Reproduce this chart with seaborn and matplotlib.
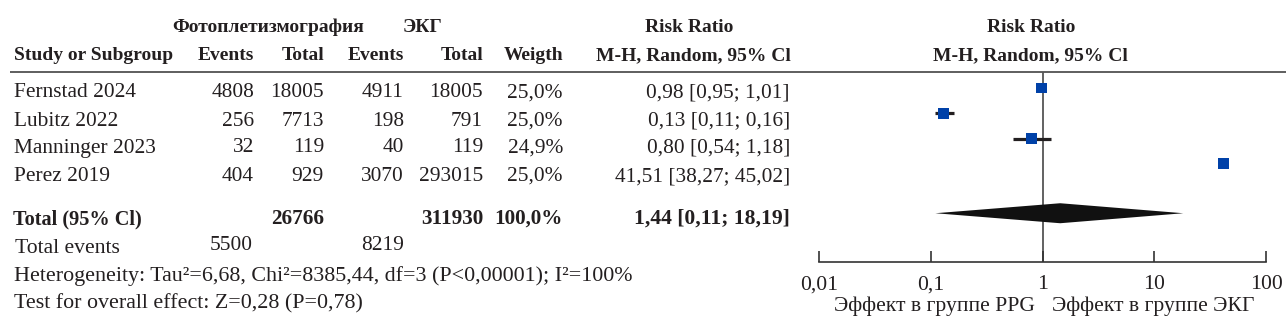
import matplotlib
matplotlib.use("Agg")
import matplotlib.pyplot as plt
import matplotlib.ticker as mticker
from matplotlib.patches import Polygon
import seaborn as sns
import pandas as pd

# ---------------- data ----------------
studies = ["Fernstad 2024", "Lubitz 2022", "Manninger 2023", "Perez 2019"]
ppg_events = [4808, 256, 32, 404]
ppg_total = [18005, 7713, 119, 929]
ecg_events = [4911, 198, 40, 3070]
ecg_total = [18005, 791, 119, 293015]
weights = ["25,0%", "25,0%", "24,9%", "25,0%"]
rr = [0.98, 0.13, 0.80, 41.51]
rr_low = [0.95, 0.11, 0.54, 38.27]
rr_high = [1.01, 0.16, 1.18, 45.02]
rr_text = ["0,98 [0,95; 1,01]", "0,13 [0,11; 0,16]", "0,80 [0,54; 1,18]",
           "41,51 [38,27; 45,02]"]
total_label = "Total (95% Cl)"
total_ppg = 26766
total_ecg = 311930
total_weight = "100,0%"
total_rr, total_low, total_high = 1.44, 0.11, 18.19
total_rr_text = "1,44 [0,11; 18,19]"
events_ppg_sum = 5500
events_ecg_sum = 8219
heterogeneity = "Heterogeneity: Tau\u00b2=6,68, Chi\u00b2=8385,44, df=3 (P<0,00001); I\u00b2=100%"
overall = "Test for overall effect: Z=0,28 (P=0,78)"
tick_values = [0.01, 0.1, 1, 10, 100]
tick_labels = ["0,01", "0,1", "1", "10", "100"]
favours_left = "Эффект в группе PPG"
favours_right = "Эффект в группе ЭКГ"

df = pd.DataFrame({"study": studies, "rr": rr, "low": rr_low, "high": rr_high,
                   "row": list(range(len(studies)))})

# ---------------- style ----------------
plt.rcParams["font.family"] = ["Liberation Serif", "DejaVu Serif"]
TXT = "#231f20"
REG = 15.4
HDR = 14
BIG = 15.6

W, H = 1286, 329
fig = plt.figure(figsize=(W / 100, H / 100), dpi=100)
bg = fig.add_axes([0, 0, 1, 1])
bg.set_xlim(0, W)
bg.set_ylim(H, 0)
bg.axis("off")


def t(x, y, s, ha="left", bold=False, size=None):
    bg.text(x, y, s, ha=ha, va="baseline", color=TXT,
            fontsize=size if size else (HDR if bold else REG),
            fontweight="bold" if bold else "normal")


# headers
t(268, 31.5, "Фотоплетизмография", ha="center", bold=True)
t(422, 31.5, "ЭКГ", ha="center", bold=True)
t(689, 31.5, "Risk Ratio", ha="center", bold=True)
t(1031, 31.5, "Risk Ratio", ha="center", bold=True)
t(14, 60, "Study or Subgroup", bold=True)
t(254, 60, "Events", ha="right", bold=True)
t(324, 60, "Total", ha="right", bold=True)
t(404, 60, "Events", ha="right", bold=True)
t(483, 60, "Total", ha="right", bold=True)
t(563, 60, "Weigth", ha="right", bold=True)
t(791, 60, "M-H, Random, 95% Cl", ha="right", bold=True)
t(1030, 60, "M-H, Random, 95% Cl", ha="center", bold=True)
bg.plot([10, W], [71.5, 71.5], color="#333333", lw=1.1, solid_capstyle="butt")

# study rows
baselines = [97.3, 125.5, 152.5, 181]
for i, yb in enumerate(baselines):
    t(14, yb, studies[i])
    t(254, yb, str(ppg_events[i]), ha="right")
    t(324, yb, str(ppg_total[i]), ha="right")
    t(404, yb, str(ecg_events[i]), ha="right")
    t(483, yb, str(ecg_total[i]), ha="right")
    t(563, yb, weights[i], ha="right")
    t(790, yb, rr_text[i], ha="right")

# total row
TB = 224
t(13, TB, total_label, bold=True, size=14.6)
t(324, TB, str(total_ppg), ha="right", bold=True, size=15.2)
t(483, TB, str(total_ecg), ha="right", bold=True, size=15.2)
t(563, TB, total_weight, ha="right", bold=True, size=15.2)
t(790, TB, total_rr_text, ha="right", bold=True, size=15.6)
t(15, 253, "Total events", size=15.6)
t(253, 250, str(events_ppg_sum), ha="right")
t(404, 250, str(events_ecg_sum), ha="right")
t(14, 281, heterogeneity, size=15.8)
t(14, 308.5, overall, size=15.8)

# favours labels
t(1035, 311.5, favours_left, ha="right", size=BIG)
t(1052, 311.5, favours_right, ha="left", size=BIG)

# ---------------- forest axes ----------------
x0, x1 = 819, 1266
y_top, y_bot = 72, 262
fa = fig.add_axes([x0 / W, (H - y_bot) / H, (x1 - x0) / W, (y_bot - y_top) / H])
fa.patch.set_alpha(0)
fa.set_xscale("log")
fa.set_xlim(0.01, 100)
step = 25.3
fa.set_ylim((y_bot - 88) / step, (y_top - 88) / step)

fa.axvline(1, color="#555555", lw=1.3, zorder=1)
fa.hlines(df["row"], df["low"], df["high"], color=TXT, lw=2.3, zorder=2)
sns.scatterplot(data=df, x="rr", y="row", marker="s", s=62, color="#0041a8",
                edgecolor="none", linewidth=0, ax=fa, zorder=3, legend=False)

drow = 4.95
hh = 10 / step
fa.add_patch(Polygon([(total_low, drow), (total_rr, drow - hh),
                      (total_high, drow), (total_rr, drow + hh)],
                     closed=True, facecolor="#111111", edgecolor="none", zorder=3))

for s in ["top", "left", "right"]:
    fa.spines[s].set_visible(False)
fa.spines["bottom"].set_color("#333333")
fa.spines["bottom"].set_linewidth(1.2)
fa.set_yticks([])
fa.xaxis.set_major_locator(mticker.FixedLocator(tick_values))
fa.xaxis.set_minor_locator(mticker.NullLocator())
fa.set_xticklabels(tick_labels)
fa.tick_params(axis="x", direction="in", length=8, width=1.2, color="#333333",
               pad=9.5, labelsize=BIG, labelcolor=TXT)
fa.set_xlabel("")
fa.set_ylabel("")

fig.savefig("out.png", dpi=100)
